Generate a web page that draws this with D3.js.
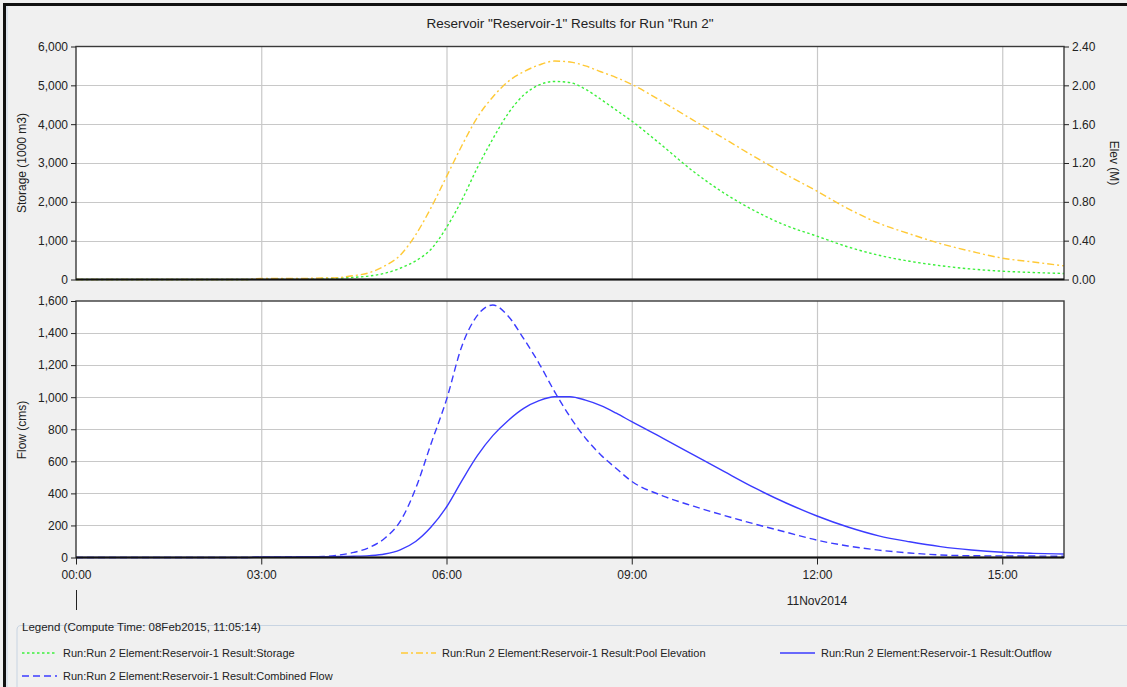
<!DOCTYPE html>
<html>
<head>
<meta charset="utf-8">
<script src="https://cdn.jsdelivr.net/npm/d3@7"></script>
<style>
  html, body { margin: 0; padding: 0; background: #f0f0f0; }
  svg { display: block; }
  text { font-family: "Liberation Sans", Arial, sans-serif; }
</style>
</head>
<body>
<svg id="chart" width="1127" height="687"></svg>
<script>
// ---- data (hours after 00:00 on 11Nov2014) ----
const times = [0, 1, 2, 2.75, 3, 3.5, 4, 4.25, 4.5, 4.75, 5, 5.25, 5.5, 5.75, 6, 6.25, 6.5, 6.75, 7, 7.25, 7.5, 7.75, 8, 8.25, 8.5, 8.75, 9, 9.5, 10, 10.5, 11, 11.5, 12, 12.5, 13, 13.5, 14, 14.5, 15, 15.5, 16];
const storage = [0, 0, 0, 0, 10, 15, 25, 35, 55, 90, 160, 290, 480, 780, 1340, 2050, 2880, 3620, 4280, 4750, 5010, 5100, 5070, 4900, 4640, 4360, 4080, 3440, 2780, 2220, 1760, 1390, 1116, 840, 625, 470, 355, 270, 214, 180, 155];
const poolElevation = [0, 0, 0, 0, 0.01, 0.01, 0.015, 0.02, 0.04, 0.07, 0.14, 0.25, 0.46, 0.74, 1.06, 1.38, 1.67, 1.88, 2.04, 2.14, 2.21, 2.25, 2.24, 2.20, 2.14, 2.08, 2.01, 1.83, 1.64, 1.45, 1.26, 1.08, 0.91, 0.73, 0.58, 0.47, 0.37, 0.29, 0.22, 0.18, 0.14];
const combinedFlow = [0, 0, 0, 0, 2, 3, 6, 15, 32, 62, 120, 225, 430, 710, 985, 1320, 1510, 1575, 1505, 1365, 1210, 1035, 878, 745, 640, 555, 475, 385, 320, 262, 208, 158, 108, 72, 46, 28, 16, 11, 10, 9, 8];
const outflow = [0, 0, 0, 0, 3, 4, 5, 6, 8, 12, 22, 48, 100, 190, 315, 480, 635, 760, 855, 930, 978, 1003, 1003, 982, 948, 900, 847, 745, 640, 535, 432, 340, 259, 190, 135, 98, 68, 47, 33, 26, 22];

const xTicks = [0, 3, 6, 9, 12, 15];
const storageTicks = [0, 1000, 2000, 3000, 4000, 5000, 6000];
const elevTicks = [0, 0.4, 0.8, 1.2, 1.6, 2.0, 2.4];
const flowTicks = [0, 200, 400, 600, 800, 1000, 1200, 1400, 1600];

const title = 'Reservoir "Reservoir-1" Results for Run "Run 2"';
const dateLabel = "11Nov2014";
const legendTitle = "Legend (Compute Time: 08Feb2015, 11:05:14)";
const seriesNames = [
  "Run:Run 2 Element:Reservoir-1 Result:Storage",
  "Run:Run 2 Element:Reservoir-1 Result:Pool Elevation",
  "Run:Run 2 Element:Reservoir-1 Result:Outflow",
  "Run:Run 2 Element:Reservoir-1 Result:Combined Flow"
];

// ---- styles ----
const C_GREEN = "#3cf03c", C_GOLD = "#ffc936", C_BLUE = "#3b3bff";
const S_STORAGE = {color: C_GREEN, dash: "2.5,2.5", width: 1.4};
const S_ELEV = {color: C_GOLD, dash: "7,3,2,3", width: 1.4};
const S_OUT = {color: C_BLUE, dash: null, width: 1.4};
const S_COMB = {color: C_BLUE, dash: "7,4", width: 1.4};

const svg = d3.select("#chart");
const base = new Date(2014, 10, 11, 0, 0, 0);
const toDate = h => new Date(base.getTime() + h * 3600000);

const L = 76, R = 1064;
const topT = 46.5, topB = 279.5, botT = 301, botB = 557.5;

const x = d3.scaleTime().domain([toDate(0), toDate(16)]).range([L, R]);
const yS = d3.scaleLinear().domain([0, 6000]).range([topB, topT]);
const yE = d3.scaleLinear().domain([0, 2.4]).range([topB, topT]);
const yF = d3.scaleLinear().domain([0, 1600]).range([botB, botT]);

// outer frame
svg.append("rect").attr("x", 0).attr("y", 0).attr("width", 1127).attr("height", 687).attr("fill", "#f0f0f0");
svg.append("line").attr("x1", 3).attr("x2", 1127).attr("y1", 4.5).attr("y2", 4.5).attr("stroke", "#111").attr("stroke-width", 3);
svg.append("line").attr("x1", 4.5).attr("x2", 4.5).attr("y1", 3).attr("y2", 687).attr("stroke", "#111").attr("stroke-width", 3);
svg.append("line").attr("x1", 7).attr("x2", 7).attr("y1", 6).attr("y2", 687).attr("stroke", "#c9d6e6").attr("stroke-width", 1);

// title
svg.append("text").attr("x", 570).attr("y", 28).attr("text-anchor", "middle")
  .attr("font-size", 13.5).attr("fill", "#222").text(title);

function panel(t, b, yScale, ticks) {
  svg.append("rect").attr("x", L).attr("y", t).attr("width", R - L).attr("height", b - t).attr("fill", "#fff");
  const g = svg.append("g");
  g.selectAll("line.v").data(xTicks.slice(1)).join("line")
    .attr("x1", d => x(toDate(d)) + 0.5).attr("x2", d => x(toDate(d)) + 0.5)
    .attr("y1", t).attr("y2", b).attr("stroke", "#c8c8c8").attr("stroke-width", 1.2);
  g.selectAll("line.h").data(ticks.slice(1, -1)).join("line")
    .attr("x1", L).attr("x2", R)
    .attr("y1", d => Math.round(yScale(d)) + 0.5).attr("y2", d => Math.round(yScale(d)) + 0.5)
    .attr("stroke", "#c8c8c8").attr("stroke-width", 1.2);
}
panel(topT, topB, yS, storageTicks);
panel(botT, botB, yF, flowTicks);

// lines
function drawLine(values, yScale, st) {
  const line = d3.line().x((d, i) => x(toDate(times[i]))).y(d => yScale(d)).curve(d3.curveMonotoneX);
  const p = svg.append("path").datum(values).attr("d", line).attr("fill", "none")
    .attr("stroke", st.color).attr("stroke-width", st.width);
  if (st.dash) p.attr("stroke-dasharray", st.dash);
}
drawLine(storage, yS, S_STORAGE);
drawLine(poolElevation, yE, S_ELEV);
drawLine(outflow, yF, S_OUT);
drawLine(combinedFlow, yF, S_COMB);

// panel borders
function border(t, b) {
  svg.append("rect").attr("x", L).attr("y", t).attr("width", R - L).attr("height", b - t)
    .attr("fill", "none").attr("stroke", "#3a3a3a").attr("stroke-width", 1.4);
  svg.append("line").attr("x1", L).attr("x2", R).attr("y1", b).attr("y2", b).attr("stroke", "#111").attr("stroke-width", 1.8);
}
border(topT, topB);
border(botT, botB);

// axes
function styleAxis(g) {
  g.select(".domain").remove();
  g.selectAll(".tick line").attr("stroke", "#222");
  g.selectAll(".tick text").attr("font-size", 12).attr("fill", "#222")
    .attr("font-family", "'Liberation Sans', Arial, sans-serif");
}
svg.append("g").attr("transform", `translate(${L},0)`)
  .call(d3.axisLeft(yS).tickValues(storageTicks).tickSize(5).tickPadding(3).tickFormat(d3.format(",")))
  .call(styleAxis);
svg.append("g").attr("transform", `translate(${R},0)`)
  .call(d3.axisRight(yE).tickValues(elevTicks).tickSize(5).tickPadding(3).tickFormat(d3.format(".2f")))
  .call(styleAxis);
svg.append("g").attr("transform", `translate(${L},0)`)
  .call(d3.axisLeft(yF).tickValues(flowTicks).tickSize(5).tickPadding(3).tickFormat(d3.format(",")))
  .call(styleAxis);
svg.append("g").attr("transform", `translate(0,${botB})`)
  .call(d3.axisBottom(x).tickValues(xTicks.map(toDate)).tickSize(7).tickPadding(6).tickFormat(d3.timeFormat("%H:%M")))
  .call(styleAxis);

// date label and marker
svg.append("text").attr("x", x(toDate(12))).attr("y", 605).attr("text-anchor", "middle")
  .attr("font-size", 12).attr("fill", "#222").text(dateLabel);
svg.append("line").attr("x1", L + 0.5).attr("x2", L + 0.5).attr("y1", 590).attr("y2", 610).attr("stroke", "#222");

// axis titles
svg.append("text").attr("transform", "translate(26,163) rotate(-90)").attr("text-anchor", "middle")
  .attr("font-size", 12).attr("fill", "#222").text("Storage (1000 m3)");
svg.append("text").attr("transform", "translate(26,430) rotate(-90)").attr("text-anchor", "middle")
  .attr("font-size", 12).attr("fill", "#222").text("Flow (cms)");
svg.append("text").attr("transform", "translate(1110,163) rotate(90)").attr("text-anchor", "middle")
  .attr("font-size", 12).attr("fill", "#222").text("Elev (M)");

// legend
svg.append("path").attr("d", "M17,687 L17,630 Q17,625.5 21,625.5 L1127,625.5")
  .attr("fill", "none").attr("stroke", "#c8d4e2").attr("stroke-width", 1);
const lt = svg.append("text").attr("x", 22).attr("y", 631).attr("font-size", 11.5).attr("fill", "#222").text(legendTitle);
const bb = lt.node().getBBox();
svg.insert("rect", "text").attr("x", bb.x - 2).attr("y", 622).attr("width", bb.width + 4).attr("height", 8).attr("fill", "#f0f0f0");

const legendItems = [
  {name: seriesNames[0], st: S_STORAGE, x: 22, y: 653},
  {name: seriesNames[1], st: S_ELEV, x: 401, y: 653},
  {name: seriesNames[2], st: S_OUT, x: 780, y: 653},
  {name: seriesNames[3], st: S_COMB, x: 22, y: 676}
];
legendItems.forEach(it => {
  const l = svg.append("line").attr("x1", it.x).attr("x2", it.x + 35).attr("y1", it.y).attr("y2", it.y)
    .attr("stroke", it.st.color).attr("stroke-width", it.st.width);
  if (it.st.dash) l.attr("stroke-dasharray", it.st.dash);
  svg.append("text").attr("x", it.x + 41).attr("y", it.y + 4).attr("font-size", 11).attr("fill", "#222").text(it.name);
});
</script>
</body>
</html>
